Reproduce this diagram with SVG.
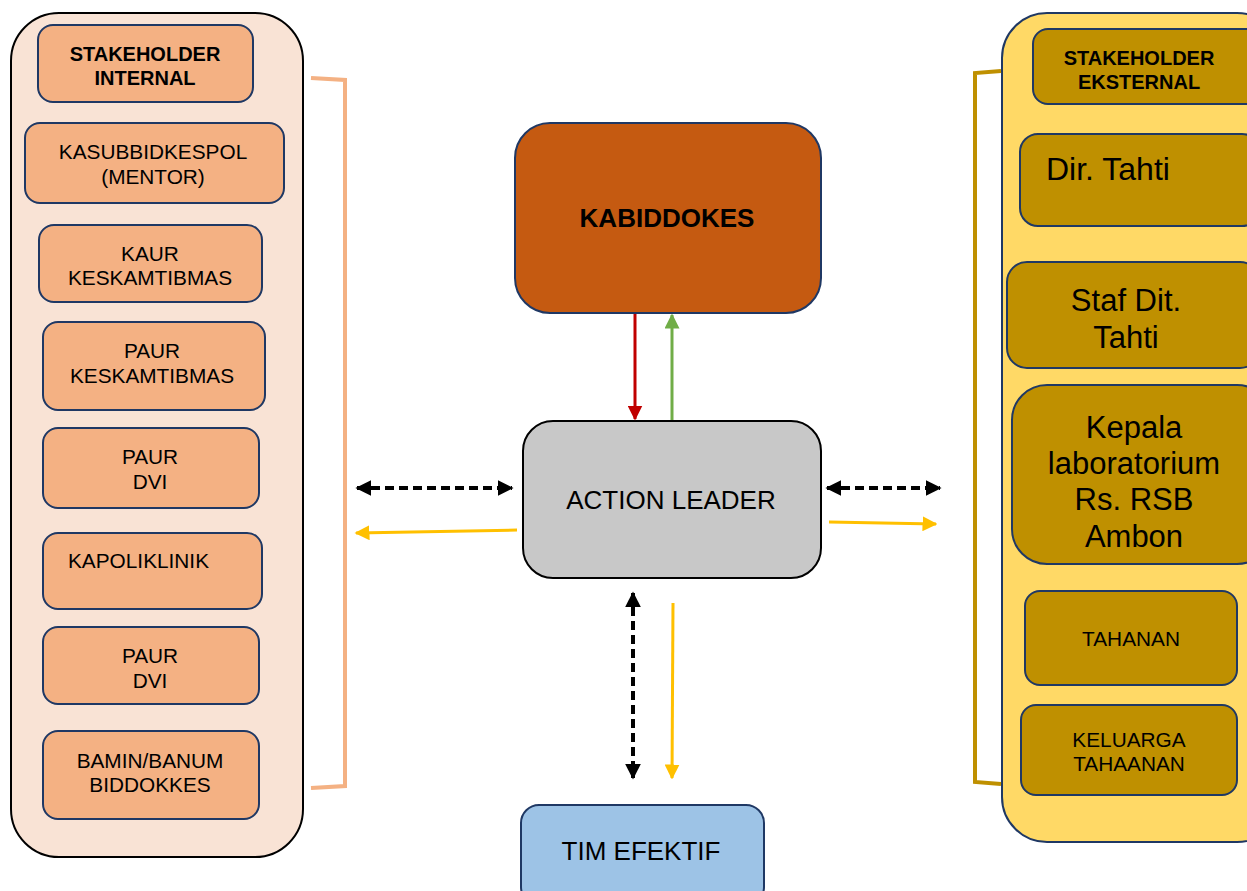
<svg xmlns="http://www.w3.org/2000/svg" width="1247" height="891" viewBox="0 0 1247 891">
<style>
text{font-family:"Liberation Sans",Arial,sans-serif;fill:#000;text-anchor:middle}
.b{font-weight:bold}
.s{font-size:20.8px}
.cl{fill:#F9E3D5;stroke:#000;stroke-width:2}
.cr{fill:#FFD966;stroke:#1F3864;stroke-width:2}
.nl{fill:#F4B183;stroke:#1F3864;stroke-width:2}
.nr{fill:#BF9000;stroke:#1F3864;stroke-width:2}
.dash{stroke:#000;stroke-width:4;stroke-dasharray:9 5;fill:none}
.yel{stroke:#FFC000;stroke-width:3;fill:none}
</style>
<defs>
<marker id="ab" viewBox="0 0 10 10" refX="9" refY="5" markerWidth="4" markerHeight="4" orient="auto-start-reverse"><path d="M0,0L10,5L0,10z" fill="#000"/></marker>
<marker id="ay" viewBox="0 0 10 10" refX="9" refY="5" markerWidth="5" markerHeight="5" orient="auto-start-reverse"><path d="M0,0L10,5L0,10z" fill="#FFC000"/></marker>
<marker id="ar" viewBox="0 0 10 10" refX="9" refY="5" markerWidth="5" markerHeight="5" orient="auto"><path d="M0,0L10,5L0,10z" fill="#C00000"/></marker>
<marker id="ag" viewBox="0 0 10 10" refX="9" refY="5" markerWidth="5" markerHeight="5" orient="auto"><path d="M0,0L10,5L0,10z" fill="#70AD47"/></marker>
</defs>

<g id="internal-group">
<rect class="cl" x="11" y="13" width="292" height="844" rx="48"/>
</g>
<g id="external-group">
<rect class="cr" x="1002" y="13" width="280" height="829" rx="45"/>
</g>

<g id="bracket-left"><path d="M311,78 L345,80 L345,786 L311,788" fill="none" stroke="#F4B183" stroke-width="4"/></g>
<g id="bracket-right"><path d="M1001,71 L975,73 L975,782 L1001,784" fill="none" stroke="#BF9000" stroke-width="4"/></g>

<g id="n-stakeholder-internal"><rect class="nl" x="38" y="25" width="215" height="77" rx="15"/><text class="b" x="145" y="61" font-size="20">STAKEHOLDER</text><text class="b" x="145" y="85" font-size="20">INTERNAL</text></g>
<g id="n-kasubbidkespol"><rect class="nl" x="25" y="123" width="259" height="80" rx="15"/><text class="s" x="153" y="159">KASUBBIDKESPOL</text><text class="s" x="153" y="184">(MENTOR)</text></g>
<g id="n-kaur"><rect class="nl" x="39" y="225" width="223" height="77" rx="15"/><text class="s" x="150" y="261">KAUR</text><text class="s" x="150" y="285">KESKAMTIBMAS</text></g>
<g id="n-paur-kes"><rect class="nl" x="43" y="322" width="222" height="88" rx="15"/><text class="s" x="152" y="358">PAUR</text><text class="s" x="152" y="383">KESKAMTIBMAS</text></g>
<g id="n-paur-dvi-1"><rect class="nl" x="43" y="428" width="216" height="80" rx="15"/><text class="s" x="150" y="464">PAUR</text><text class="s" x="150" y="489">DVI</text></g>
<g id="n-kapoliklinik"><rect class="nl" x="43" y="533" width="219" height="76" rx="15"/><text class="s" x="68" y="568" style="text-anchor:start">KAPOLIKLINIK</text></g>
<g id="n-paur-dvi-2"><rect class="nl" x="43" y="627" width="216" height="77" rx="15"/><text class="s" x="150" y="663">PAUR</text><text class="s" x="150" y="688">DVI</text></g>
<g id="n-bamin"><rect class="nl" x="43" y="731" width="216" height="88" rx="15"/><text class="s" x="150" y="768">BAMIN/BANUM</text><text class="s" x="150" y="792">BIDDOKKES</text></g>

<g id="n-kabiddokes"><rect x="515" y="123" width="306" height="190" rx="35" fill="#C55A11" stroke="#1F3864" stroke-width="2"/><text class="b" x="667" y="227" font-size="26">KABIDDOKES</text></g>
<g id="n-action-leader"><rect x="523" y="421" width="298" height="157" rx="30" fill="#C8C8C8" stroke="#000" stroke-width="2"/><text x="671" y="509" font-size="26">ACTION LEADER</text></g>
<g id="n-tim-efektif"><rect x="521" y="805" width="243" height="100" rx="18" fill="#9DC3E6" stroke="#1F3864" stroke-width="2"/><text x="641" y="860" font-size="26">TIM EFEKTIF</text></g>

<g id="n-stakeholder-eksternal"><rect class="nr" x="1033" y="29" width="230" height="75" rx="15"/><text class="b" x="1139" y="65" font-size="20">STAKEHOLDER</text><text class="b" x="1139" y="89" font-size="20">EKSTERNAL</text></g>
<g id="n-dir-tahti"><rect class="nr" x="1020" y="134" width="240" height="92" rx="18"/><text x="1046" y="180" font-size="32" style="text-anchor:start">Dir. Tahti</text></g>
<g id="n-staf-dit"><rect class="nr" x="1007" y="262" width="253" height="106" rx="20"/><text x="1126" y="311" font-size="31">Staf Dit.</text><text x="1126" y="348" font-size="31">Tahti</text></g>
<g id="n-kepala-lab"><rect class="nr" x="1012" y="385" width="260" height="179" rx="35"/><text x="1134" y="438" font-size="31">Kepala</text><text x="1134" y="474" font-size="31">laboratorium</text><text x="1134" y="510" font-size="31">Rs. RSB</text><text x="1134" y="547" font-size="31">Ambon</text></g>
<g id="n-tahanan"><rect class="nr" x="1025" y="591" width="212" height="94" rx="15"/><text class="s" x="1131" y="646">TAHANAN</text></g>
<g id="n-keluarga"><rect class="nr" x="1021" y="705" width="216" height="90" rx="15"/><text class="s" x="1129" y="747">KELUARGA</text><text class="s" x="1129" y="771">TAHAANAN</text></g>

<g id="connectors">
<line x1="635" y1="314" x2="635" y2="419" stroke="#C00000" stroke-width="3" marker-end="url(#ar)"/>
<line x1="672" y1="420" x2="672" y2="315" stroke="#70AD47" stroke-width="3" marker-end="url(#ag)"/>
<line class="dash" x1="357" y1="488" x2="512" y2="488" marker-start="url(#ab)" marker-end="url(#ab)"/>
<line class="yel" x1="517" y1="530" x2="356" y2="533" marker-end="url(#ay)"/>
<line class="dash" x1="827" y1="488" x2="940" y2="488" marker-start="url(#ab)" marker-end="url(#ab)"/>
<line class="yel" x1="829" y1="522" x2="936" y2="524" marker-end="url(#ay)"/>
<line class="dash" x1="633" y1="593" x2="633" y2="778" marker-start="url(#ab)" marker-end="url(#ab)"/>
<line class="yel" x1="673" y1="603" x2="672" y2="778" marker-end="url(#ay)"/>
</g>
</svg>
